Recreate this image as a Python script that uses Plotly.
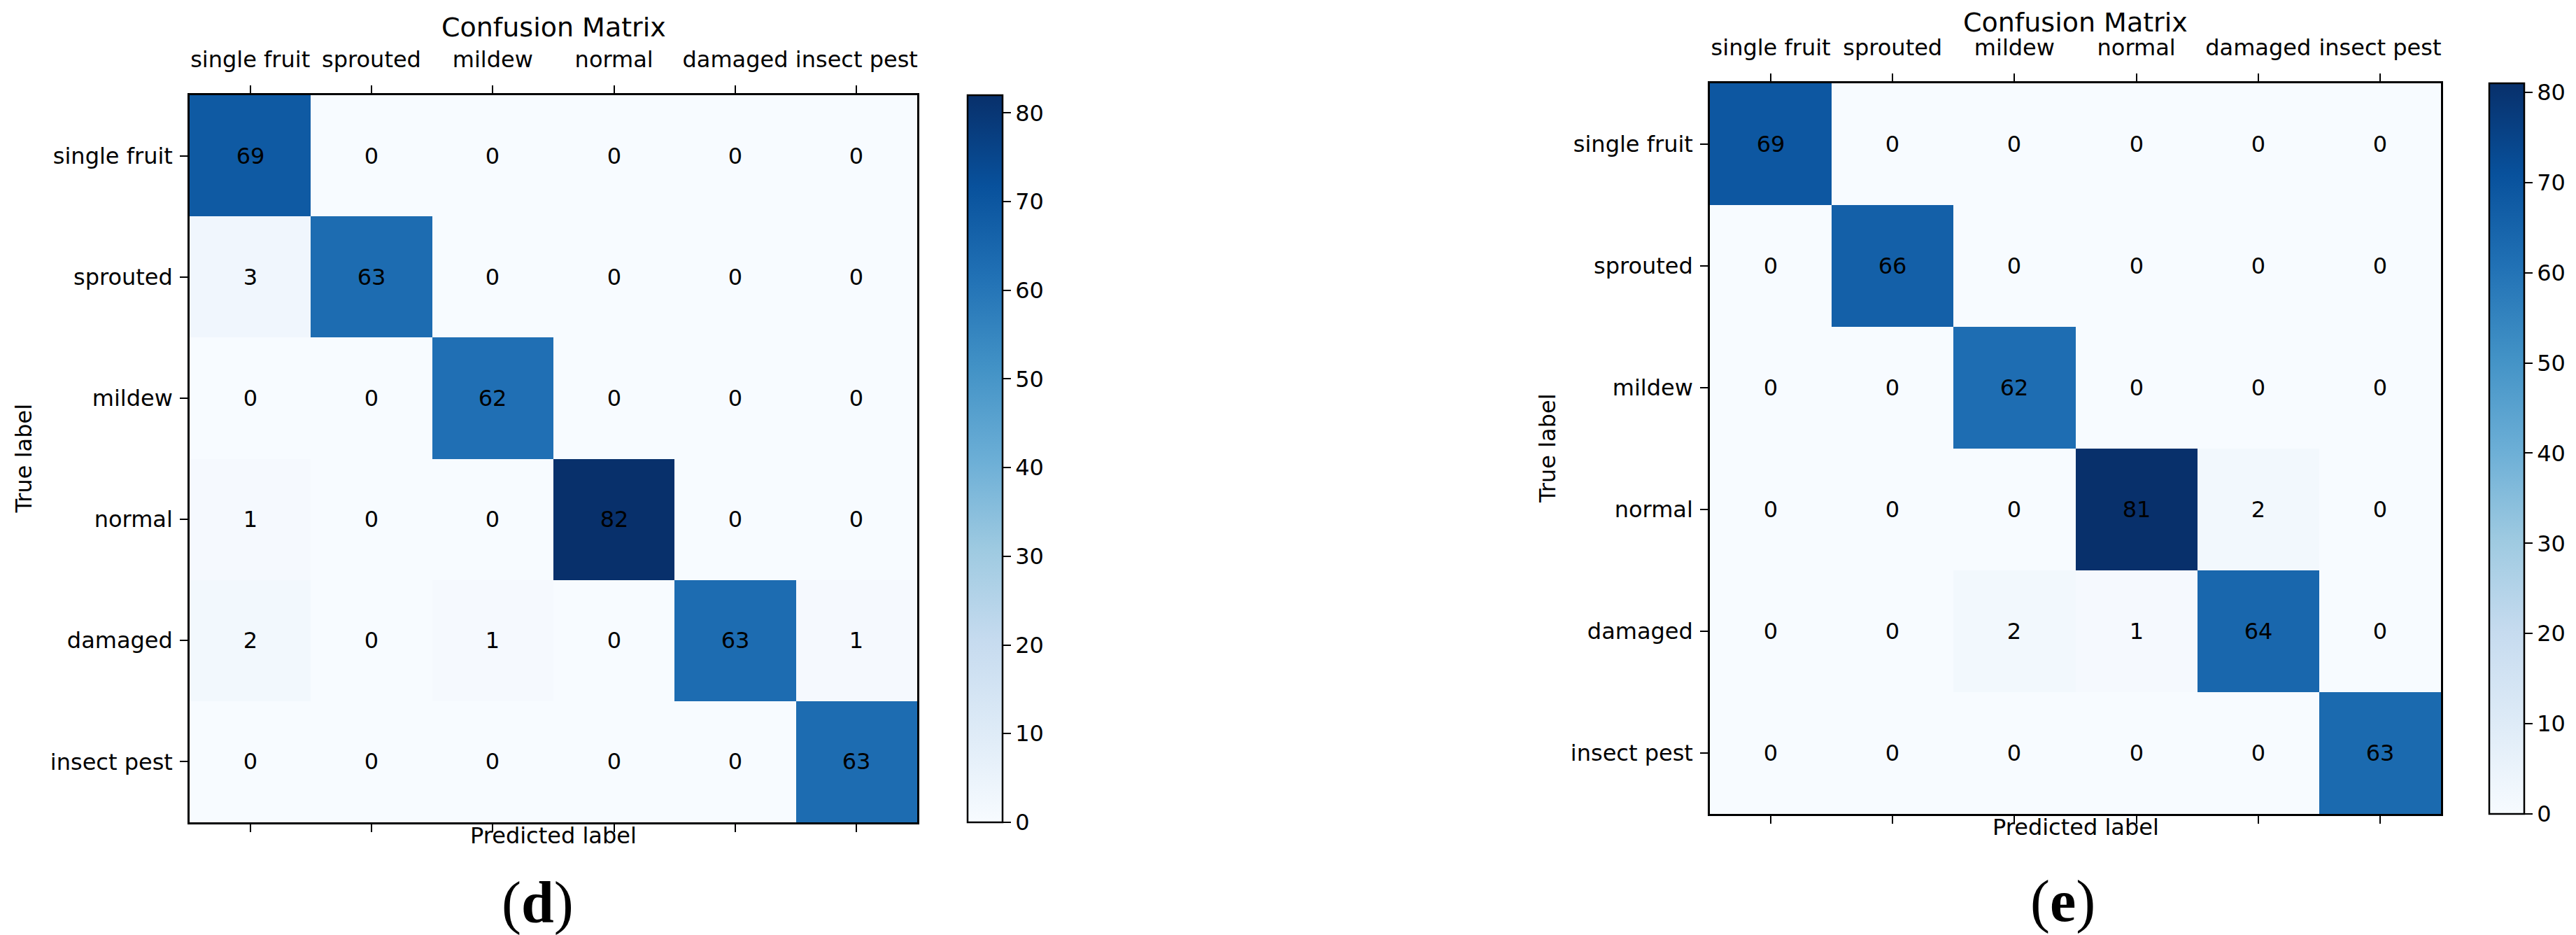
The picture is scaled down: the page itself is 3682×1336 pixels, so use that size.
import plotly.graph_objects as go

W, H = 3682, 1336

classes = ["single fruit", "sprouted", "mildew", "normal", "damaged", "insect pest"]

cm_d = [
    [69, 0, 0, 0, 0, 0],
    [3, 63, 0, 0, 0, 0],
    [0, 0, 62, 0, 0, 0],
    [1, 0, 0, 82, 0, 0],
    [2, 0, 1, 0, 63, 1],
    [0, 0, 0, 0, 0, 63],
]
cm_e = [
    [69, 0, 0, 0, 0, 0],
    [0, 66, 0, 0, 0, 0],
    [0, 0, 62, 0, 0, 0],
    [0, 0, 0, 81, 2, 0],
    [0, 0, 2, 1, 64, 0],
    [0, 0, 0, 0, 0, 63],
]
cbar_ticks = [0, 10, 20, 30, 40, 50, 60, 70, 80]
panel_labels = ["d", "e"]

blues = ["#f7fbff", "#deebf7", "#c6dbef", "#9ecae1", "#6baed6",
         "#4292c6", "#2171b5", "#08519c", "#08306b"]
colorscale = [[i / (len(blues) - 1), c] for i, c in enumerate(blues)]

FONT = "DejaVu Sans"

def px_x(v):
    return v / W

def px_y(v):
    return 1 - v / H

# pixel boxes of the two panels: (left, right, top, bottom), colorbar left
panels = [
    dict(box=(263, 1303, 128, 1167), cbx=1375, zmax=82, title_y=31, title_anchor="middle",
         xlabel_y=1186, ylabel_x=26, plabel=(760, 1282)),
    dict(box=(2436, 3481, 111, 1155), cbx=3550, zmax=81, title_y=0, title_anchor="top",
         xlabel_y=1174, ylabel_x=2204, plabel=(2940, 1280)),
]

fig = go.Figure()
annotations = []
for i, (cm, p) in enumerate(zip([cm_d, cm_e], panels)):
    l, r, t, b = p["box"]
    xa = "x" if i == 0 else "x2"
    ya = "y" if i == 0 else "y2"
    fig.add_trace(go.Heatmap(
        z=cm, x=classes, y=classes, xaxis=xa, yaxis=ya,
        zmin=0, zmax=p["zmax"], colorscale=colorscale,
        texttemplate="%{z}", textfont=dict(family=FONT, size=32, color="black"),
        hoverinfo="skip",
        colorbar=dict(
            x=px_x(p["cbx"]), xanchor="left", xpad=0, ypad=0,
            y=px_y((t + b) / 2), yanchor="middle",
            len=(b - t) / H, lenmode="fraction",
            thickness=50, thicknessmode="pixels",
            outlinewidth=2.5, outlinecolor="black",
            tickvals=cbar_ticks, ticks="outside", ticklen=11, tickwidth=2,
            tickcolor="black", tickfont=dict(family=FONT, size=32, color="black"),
        ),
    ))
    axis_common = dict(showline=True, linecolor="black", linewidth=2.5,
                       ticks="outside", ticklen=11, tickwidth=2, tickcolor="black",
                       tickfont=dict(family=FONT, size=32, color="black"),
                       showgrid=False, zeroline=False)
    xkey = "xaxis" if i == 0 else "xaxis2"
    ykey = "yaxis" if i == 0 else "yaxis2"
    fig.update_layout(**{
        xkey: dict(domain=[px_x(l), px_x(r)], anchor=ya, side="top",
                   mirror="ticks", ticklabelstandoff=13, **axis_common),
        ykey: dict(domain=[px_y(b), px_y(t)], anchor=xa, autorange="reversed",
                   mirror=True, ticklabelstandoff=4, **axis_common),
    })
    cx = (l + r) / 2
    annotations += [
        dict(text="Confusion Matrix", x=px_x(cx), y=px_y(p["title_y"]),
             xref="paper", yref="paper", showarrow=False, xanchor="center",
             yanchor=p["title_anchor"], font=dict(family=FONT, size=38, color="black")),
        dict(text="Predicted label", x=px_x(cx), y=px_y(p["xlabel_y"]),
             xref="paper", yref="paper", showarrow=False, xanchor="center",
             yanchor="middle", font=dict(family=FONT, size=32, color="black")),
        dict(text="True label", x=px_x(p["ylabel_x"]), y=px_y((t + b) / 2),
             xref="paper", yref="paper", showarrow=False, textangle=-90,
             xanchor="center", yanchor="middle",
             font=dict(family=FONT, size=32, color="black")),
        dict(text="(<b>%s</b>)" % panel_labels[i], x=px_x(p["plabel"][0]),
             y=px_y(p["plabel"][1]), xref="paper", yref="paper", showarrow=False,
             xanchor="center", yanchor="middle",
             font=dict(family="Liberation Serif", size=84, color="black")),
    ]

fig.update_layout(
    width=W, height=H, margin=dict(l=0, r=0, t=0, b=0),
    paper_bgcolor="white", plot_bgcolor="white",
    annotations=annotations, showlegend=False,
)

fig.write_html("out.html")
